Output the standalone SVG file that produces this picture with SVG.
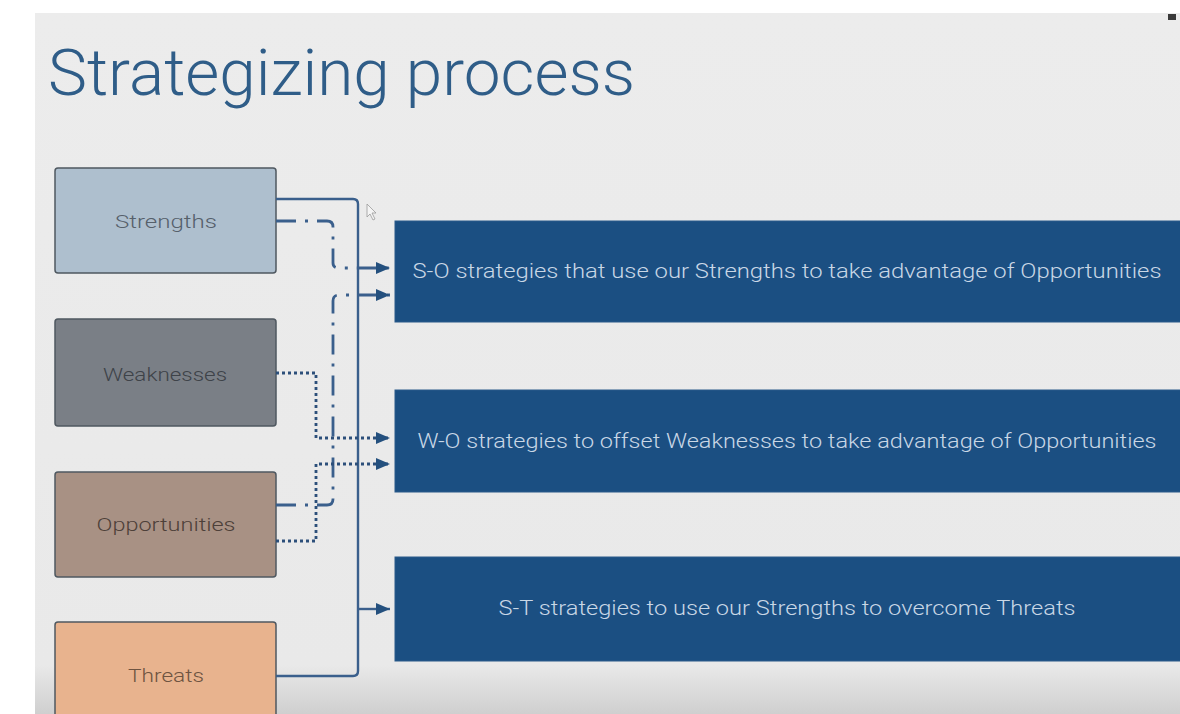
<svg xmlns="http://www.w3.org/2000/svg" width="1180" height="714" viewBox="0 0 1180 714">
<defs>
<linearGradient id="bg" x1="0" y1="0" x2="0" y2="1">
<stop offset="0" stop-color="#ececec"/>
<stop offset="0.93" stop-color="#e9e9e9"/>
<stop offset="1" stop-color="#cfcfcf"/>
</linearGradient>
<marker id="arr" viewBox="0 0 14 12" refX="14" refY="6" markerWidth="14" markerHeight="12" markerUnits="userSpaceOnUse" orient="auto">
<path d="M0,0 L14,6 L0,12 Z" fill="#24507e"/>
</marker>
<style>
.node rect{stroke:#4f5860;stroke-width:1.5}
.lbl{font-family:Roboto,"Liberation Sans",sans-serif;font-weight:300;font-size:19px;text-anchor:middle}
.str rect{fill:#1b4f82;stroke:#2a5a8a;stroke-width:1}
.str text{font-family:Roboto,"Liberation Sans",sans-serif;font-weight:300;font-size:20px;fill:#c9d7e6;text-anchor:middle}
.solid{fill:none;stroke:#3a5f8c;stroke-width:2.4}
.dashdot{fill:none;stroke:#3a5f8c;stroke-width:2.8;stroke-dasharray:20 9 3 9}
.dot{fill:none;stroke:#2c4f7a;stroke-width:2.8;stroke-dasharray:3 3}
</style>
</defs>
<rect x="0" y="0" width="1180" height="714" fill="#ffffff"/>
<rect x="35" y="13" width="1145" height="701" fill="url(#bg)"/>
<rect x="1168" y="14" width="8" height="6" fill="#3a3a3a"/>
<text x="48" y="95" font-family="Roboto,'Liberation Sans',sans-serif" font-weight="300" font-size="64" fill="#2f5d88" textLength="587" lengthAdjust="spacingAndGlyphs">Strategizing process</text>

<g id="node-strengths" class="node">
<rect x="55" y="168" width="221" height="105" rx="3" fill="#aebfce"/>
<text class="lbl" x="166" y="228" fill="#56606b" textLength="102" lengthAdjust="spacingAndGlyphs">Strengths</text>
</g>
<g id="node-weaknesses" class="node">
<rect x="55" y="319" width="221" height="107" rx="3" fill="#7a7f86"/>
<text class="lbl" x="165" y="381" fill="#3e4349" textLength="124" lengthAdjust="spacingAndGlyphs">Weaknesses</text>
</g>
<g id="node-opportunities" class="node">
<rect x="55" y="472" width="221" height="105" rx="3" fill="#a89184"/>
<text class="lbl" x="166" y="531" fill="#4d4039" textLength="139" lengthAdjust="spacingAndGlyphs">Opportunities</text>
</g>
<g id="node-threats" class="node">
<rect x="55" y="622" width="221" height="110" rx="3" fill="#e8b38e"/>
<text class="lbl" x="166" y="682" fill="#6e5441" textLength="76" lengthAdjust="spacingAndGlyphs">Threats</text>
</g>

<g id="node-so" class="str">
<rect x="395" y="221" width="800" height="101"/>
<text x="787" y="278" textLength="749" lengthAdjust="spacingAndGlyphs">S-O strategies that use our Strengths to take advantage of Opportunities</text>
</g>
<g id="node-wo" class="str">
<rect x="395" y="390" width="800" height="102"/>
<text x="787" y="448" textLength="739" lengthAdjust="spacingAndGlyphs">W-O strategies to offset Weaknesses to take advantage of Opportunities</text>
</g>
<g id="node-st" class="str">
<rect x="395" y="557" width="800" height="104"/>
<text x="787" y="615" textLength="577" lengthAdjust="spacingAndGlyphs">S-T strategies to use our Strengths to overcome Threats</text>
</g>

<g id="connectors">
<path class="solid" d="M276,199 H353 Q358,199 358,204 V671 Q358,676 353,676 H276"/>
<path class="solid" d="M358,609 H390" marker-end="url(#arr)"/>
<path class="dashdot" d="M276,221 H327 Q333,221 333,227 V263 Q333,268 339,268 H390" marker-end="url(#arr)"/>
<path class="dashdot" d="M276,505 H327 Q333,505 333,499 V301 Q333,295 339,295 H390" marker-end="url(#arr)"/>
<path class="dot" d="M276,373 H316 V438 H390" marker-end="url(#arr)"/>
<path class="dot" d="M276,541 H316 V464 H390" marker-end="url(#arr)"/>
</g>
<path d="M367,204 L367,217 L370,214 L373,220 L375,219 L372,213 L376,213 Z" fill="#f4f4f4" stroke="#9a9a9a" stroke-width="0.8"/>
</svg>
